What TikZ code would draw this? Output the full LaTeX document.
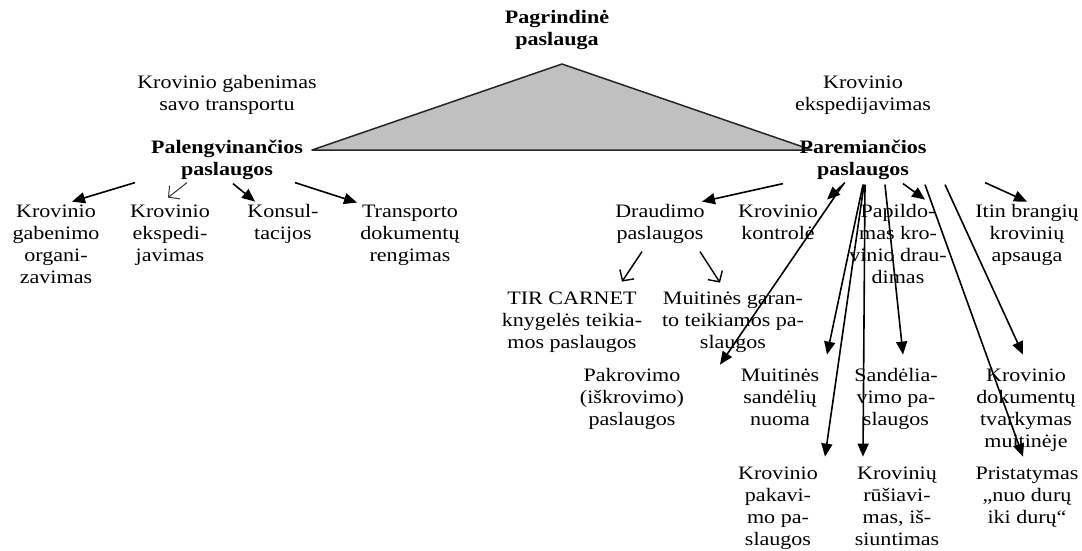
\documentclass[tikz,border=0pt]{standalone}
\usepackage{fontspec}
\setmainfont{Liberation Serif}[FakeStretch=1.16]
\usetikzlibrary{arrows.meta}

\begin{document}
\begin{tikzpicture}[x=1pt,y=-1pt]
            \tikzstyle{every node}+=[inner sep=0pt, align=center, anchor=north, font=\fontsize{19}{22}\selectfont, execute at begin node=\strut]
            \tikzstyle{bld}=[font=\fontsize{19}{22}\selectfont\bfseries]
            \tikzstyle{fwd}=[black, line width=1.6pt, -{Triangle[length=13pt,width=11pt]}]
            \tikzstyle{opn}=[black, line width=1.4pt, -{Straight Barb[length=8pt,width=17pt]}]
            \useasboundingbox (0,0) rectangle (1082,550);
            % pagrindine paslauga
            \coordinate (tl) at (312,150);
            \coordinate (tt) at (562,64);
            \coordinate (tr) at (812,150);
            \draw [black!85, line width=1.5pt, line join=round, fill={rgb,255:red,192;green,192;blue,192}] (tl) -- (tt) -- (tr) -- cycle;
            \node [bld] (pgr) at (557,10.6) {Pagrindinė\\paslauga};
            \node (kgs) at (227,75.6) {Krovinio gabenimas\\savo transportu};
            \node [bld] (pal) at (227,139.6) {Palengvinančios\\paslaugos};
            \node (kex) at (863,75.6) {Krovinio\\ekspedijavimas};
            \node [bld] (pare) at (863,139.6) {Paremiančios\\paslaugos};
            % palengvinancios
            \node (kgo) at (56,204.6) {Krovinio\\gabenimo\\organi-\\zavimas};
            \node (kek) at (170,204.6) {Krovinio\\ekspedi-\\javimas};
            \node (kon) at (283,204.6) {Konsul-\\tacijos};
            \node (trp) at (410,204.6) {Transporto\\dokumentų\\rengimas};
            \draw [fwd] ([xshift=-92pt,yshift=-43pt]pal.north) -- ([xshift=16pt,yshift=3pt]kgo.north);
            \draw [opn, line width=1pt, black!80] ([xshift=-40pt,yshift=-43pt]pal.north) -- ([xshift=-2pt,yshift=7pt]kek.north);
            \draw [fwd] ([xshift=6pt,yshift=-44pt]pal.north) -- ([xshift=-28pt,yshift=3pt]kon.north);
            \draw [fwd] ([xshift=68pt,yshift=-43pt]pal.north) -- ([xshift=-53pt,yshift=2pt]trp.north);
            % paremiancios
            \node (drd) at (660,204.6) {Draudimo\\paslaugos};
            \node (kkt) at (778,204.6) {Krovinio\\kontrolė};
            \node (pap) at (898,204.6) {Papildo-\\mas kro-\\vinio drau-\\dimas};
            \node (itb) at (1027,204.6) {Itin brangių\\krovinių\\apsauga};
            \node (tir) at (572,291.6) {TIR CARNET\\knygelės teikia-\\mos paslaugos};
            \node (mgr) at (733,291.6) {Muitinės garan-\\to teikiamos pa-\\slaugos};
            \node (pak) at (632,368.6) {Pakrovimo\\(iškrovimo)\\paslaugos};
            \node (msn) at (780,368.6) {Muitinės\\sandėlių\\nuoma};
            \node (snd) at (896,368.6) {Sandėlia-\\vimo pa-\\slaugos};
            \node (kdm) at (1026,368.6) {Krovinio\\dokumentų\\tvarkymas\\muitinėje};
            \node (kpk) at (778,466.6) {Krovinio\\pakavi-\\mo pa-\\slaugos};
            \node (krs) at (897,466.6) {Krovinių\\rūšiavi-\\mas, iš-\\siuntimas};
            \node (pri) at (1027,466.6) {Pristatymas\\„nuo durų\\iki durų“};
            \draw [fwd] ([xshift=-80pt,yshift=-44pt]pare.north) -- ([xshift=42pt,yshift=3pt]drd.north);
            \draw [fwd] ([xshift=-18pt,yshift=-43pt]pare.north) -- ([xshift=49pt,yshift=5pt]kkt.north);
            \draw [fwd] ([xshift=-20pt,yshift=-45pt]pare.north) -- ([xshift=88pt,yshift=4pt]pak.north);
            \draw [fwd] ([xshift=0pt,yshift=-45pt]pare.north) -- ([xshift=47pt,yshift=14pt]msn.north);
            \draw [fwd] ([xshift=1pt,yshift=-45pt]pare.north) -- ([xshift=47pt,yshift=10pt]kpk.north);
            \draw [fwd] ([xshift=2pt,yshift=-45pt]pare.north) -- ([xshift=-34pt,yshift=10pt]krs.north);
            \draw [fwd] ([xshift=22pt,yshift=-45pt]pare.north) -- ([xshift=7pt,yshift=14pt]snd.north);
            \draw [fwd] ([xshift=40pt,yshift=-44pt]pare.north) -- ([xshift=27pt,yshift=5pt]pap.north);
            \draw [fwd] ([xshift=62pt,yshift=-45pt]pare.north) -- ([xshift=-4pt,yshift=10pt]pri.north);
            \draw [fwd] ([xshift=82pt,yshift=-45pt]pare.north) -- ([xshift=-3pt,yshift=14pt]kdm.north);
            \draw [fwd] ([xshift=122pt,yshift=-43pt]pare.north) -- ([xshift=0pt,yshift=3pt]itb.north);
            % draudimo
            \draw [opn] ([xshift=-18pt,yshift=-47pt]drd.north) -- ([xshift=50pt,yshift=10pt]tir.north);
            \draw [opn] ([xshift=40pt,yshift=-47pt]drd.north) -- ([xshift=-13pt,yshift=9pt]mgr.north);
\end{tikzpicture}
\end{document}
